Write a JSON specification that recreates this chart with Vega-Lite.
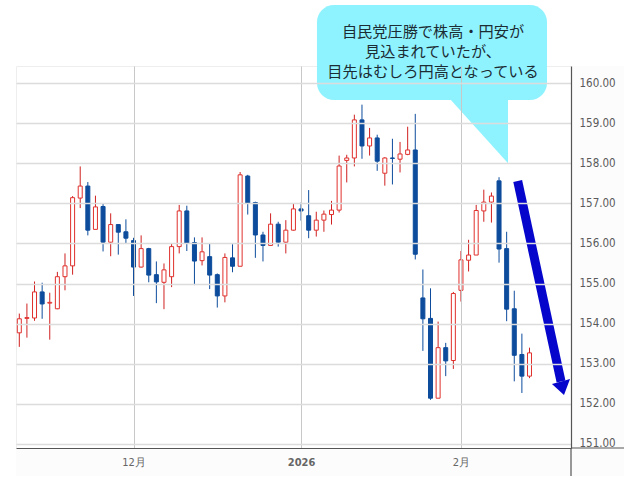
{
  "$schema": "https://vega.github.io/schema/vega-lite/v6.json",
  "width": 555,
  "height": 382,
  "autosize": "none",
  "padding": {"left": 16, "top": 66, "right": 69, "bottom": 36},
  "background": "white",
  "view": {"stroke": "#eeeeee", "fill": "white"},
  "datasets": {
    "candles": [
      {"x":0,"open":153.77,"close":154.12,"low":153.42,"high":154.25,"dir":"up"},
      {"x":1,"open":154.13,"close":154.15,"low":153.65,"high":154.5,"dir":"up"},
      {"x":2,"open":154.14,"close":154.79,"low":154.07,"high":155.05,"dir":"up"},
      {"x":3,"open":154.79,"close":154.49,"low":154.12,"high":155.02,"dir":"down"},
      {"x":4,"open":154.51,"close":154.53,"low":153.6,"high":154.77,"dir":"up"},
      {"x":5,"open":154.37,"close":155.17,"low":154.36,"high":155.29,"dir":"up"},
      {"x":6,"open":155.17,"close":155.44,"low":154.83,"high":155.75,"dir":"up"},
      {"x":7,"open":155.44,"close":157.14,"low":155.22,"high":157.18,"dir":"up"},
      {"x":8,"open":157.13,"close":157.43,"low":156.88,"high":157.92,"dir":"up"},
      {"x":9,"open":157.43,"close":156.33,"low":156.2,"high":157.53,"dir":"down"},
      {"x":10,"open":156.35,"close":156.91,"low":156.35,"high":157.19,"dir":"up"},
      {"x":11,"open":156.92,"close":156.03,"low":155.8,"high":156.99,"dir":"down"},
      {"x":12,"open":156.03,"close":156.47,"low":155.68,"high":156.75,"dir":"up"},
      {"x":13,"open":156.47,"close":156.28,"low":155.72,"high":156.47,"dir":"down"},
      {"x":14,"open":156.29,"close":156.13,"low":156.0,"high":156.6,"dir":"down"},
      {"x":15,"open":156.07,"close":155.41,"low":154.69,"high":156.14,"dir":"down"},
      {"x":16,"open":155.41,"close":155.87,"low":155.4,"high":156.2,"dir":"up"},
      {"x":17,"open":155.87,"close":155.21,"low":155.03,"high":155.89,"dir":"down"},
      {"x":18,"open":155.22,"close":155.04,"low":154.51,"high":155.55,"dir":"down"},
      {"x":19,"open":155.03,"close":155.34,"low":154.36,"high":155.5,"dir":"up"},
      {"x":20,"open":155.17,"close":155.92,"low":154.91,"high":155.99,"dir":"up"},
      {"x":21,"open":155.92,"close":156.81,"low":155.75,"high":156.96,"dir":"up"},
      {"x":22,"open":156.81,"close":156.0,"low":155.81,"high":156.94,"dir":"down"},
      {"x":23,"open":156.02,"close":155.56,"low":154.96,"high":156.15,"dir":"down"},
      {"x":24,"open":155.57,"close":155.79,"low":155.45,"high":156.15,"dir":"up"},
      {"x":25,"open":155.67,"close":155.21,"low":154.86,"high":155.99,"dir":"down"},
      {"x":26,"open":155.22,"close":154.69,"low":154.4,"high":155.25,"dir":"down"},
      {"x":27,"open":154.69,"close":155.65,"low":154.53,"high":155.75,"dir":"up"},
      {"x":28,"open":155.64,"close":155.43,"low":155.28,"high":155.98,"dir":"down"},
      {"x":29,"open":155.43,"close":157.71,"low":155.43,"high":157.78,"dir":"up"},
      {"x":30,"open":157.68,"close":157.0,"low":156.72,"high":157.71,"dir":"down"},
      {"x":31,"open":157.02,"close":156.21,"low":155.64,"high":157.04,"dir":"down"},
      {"x":32,"open":156.21,"close":155.95,"low":155.55,"high":156.29,"dir":"down"},
      {"x":33,"open":155.95,"close":156.48,"low":155.95,"high":156.75,"dir":"up"},
      {"x":34,"open":156.48,"close":156.03,"low":155.92,"high":156.54,"dir":"down"},
      {"x":35,"open":156.03,"close":156.33,"low":155.75,"high":156.58,"dir":"up"},
      {"x":36,"open":156.33,"close":156.86,"low":156.32,"high":157.0,"dir":"up"},
      {"x":37,"open":156.86,"close":156.81,"low":156.57,"high":157.02,"dir":"down"},
      {"x":38,"open":156.69,"close":156.33,"low":156.13,"high":157.33,"dir":"down"},
      {"x":39,"open":156.33,"close":156.58,"low":156.17,"high":156.79,"dir":"up"},
      {"x":40,"open":156.58,"close":156.73,"low":156.29,"high":156.82,"dir":"up"},
      {"x":41,"open":156.72,"close":156.83,"low":156.47,"high":157.06,"dir":"up"},
      {"x":42,"open":156.83,"close":157.93,"low":156.77,"high":158.19,"dir":"up"},
      {"x":43,"open":158.07,"close":158.13,"low":157.52,"high":158.21,"dir":"up"},
      {"x":44,"open":158.13,"close":159.08,"low":157.92,"high":159.21,"dir":"up"},
      {"x":45,"open":159.08,"close":158.43,"low":158.11,"high":159.46,"dir":"down"},
      {"x":46,"open":158.43,"close":158.63,"low":158.19,"high":158.88,"dir":"up"},
      {"x":47,"open":158.63,"close":158.05,"low":157.81,"high":158.71,"dir":"down"},
      {"x":48,"open":157.75,"close":158.13,"low":157.44,"high":158.15,"dir":"up"},
      {"x":49,"open":158.13,"close":158.12,"low":157.47,"high":158.61,"dir":"down"},
      {"x":50,"open":158.1,"close":158.23,"low":157.77,"high":158.53,"dir":"up"},
      {"x":51,"open":158.22,"close":158.33,"low":158.2,"high":158.91,"dir":"up"},
      {"x":52,"open":158.33,"close":155.73,"low":155.6,"high":159.23,"dir":"down"},
      {"x":53,"open":154.64,"close":154.12,"low":153.32,"high":155.35,"dir":"down"},
      {"x":54,"open":154.13,"close":152.14,"low":152.1,"high":154.88,"dir":"down"},
      {"x":55,"open":152.14,"close":153.4,"low":152.14,"high":154.05,"dir":"up"},
      {"x":56,"open":153.4,"close":153.07,"low":152.69,"high":153.52,"dir":"down"},
      {"x":57,"open":153.08,"close":154.75,"low":152.87,"high":154.79,"dir":"up"},
      {"x":58,"open":154.83,"close":155.59,"low":154.55,"high":155.81,"dir":"up"},
      {"x":59,"open":155.58,"close":155.71,"low":155.3,"high":156.09,"dir":"up"},
      {"x":60,"open":155.71,"close":156.82,"low":155.71,"high":156.96,"dir":"up"},
      {"x":61,"open":156.81,"close":157.03,"low":156.54,"high":157.34,"dir":"up"},
      {"x":62,"open":157.03,"close":157.18,"low":156.52,"high":157.27,"dir":"up"},
      {"x":63,"open":157.56,"close":155.86,"low":155.52,"high":157.65,"dir":"down"},
      {"x":64,"open":155.87,"close":154.36,"low":154.06,"high":156.29,"dir":"down"},
      {"x":65,"open":154.37,"close":153.21,"low":152.56,"high":154.82,"dir":"down"},
      {"x":66,"open":153.23,"close":152.69,"low":152.27,"high":153.75,"dir":"down"},
      {"x":67,"open":152.69,"close":153.27,"low":152.64,"high":153.4,"dir":"up"}
    ],
    "strips": [
      {"x":72.45,"x2":79.41,"y":160.424,"y2":150.2},
      {"x":-0.433,"x2":72.45,"y":150.898,"y2":150.2}
    ],
    "frame": [
      {"x":72.45,"x2":79.41,"y":150.898,"y2":150.898},
      {"x":72.45,"x2":72.45,"y":150.898,"y2":150.2}
    ],
    "callout": [{"x":39.09,"x2":69.3,"y":161.945,"y2":159.576}],
    "tail": [
      {"x":56.56,"y":159.6,"y2":159.6},
      {"x":64.18,"y":159.6,"y2":158.0}
    ],
    "note": [
      {"x":54.33,"y":161.27,"label":"自民党圧勝で株高・円安が"},
      {"x":54.33,"y":160.774,"label":"見込まれていたが、"},
      {"x":54.33,"y":160.278,"label":"目先はむしろ円高となっている"}
    ],
    "shaft": [{"x":65.45,"x2":71.14,"y":157.556,"y2":152.556}],
    "head": [
      {"x":69.95,"y":152.494,"y2":152.494},
      {"x":71.53,"y":152.576,"y2":152.219},
      {"x":72.32,"y":152.618,"y2":152.618}
    ]
  },
  "encoding": {
    "x": {
      "field": "x",
      "type": "quantitative",
      "title": null,
      "scale": {"domain": [-0.433, 72.45], "nice": false, "zero": false, "padding": 0},
      "axis": {
        "values": [15, 37, 58],
        "labelExpr": "datum.value == 15 ? '12月' : datum.value == 37 ? '2026' : '2月'",
        "labelFontWeight": {"expr": "datum.value == 37 ? 'bold' : 'normal'"},
        "labelFont": "DejaVu Sans Condensed, DejaVu Sans",
        "labelFontSize": 11,
        "labelColor": "#666666",
        "labelPadding": 8,
        "ticks": false,
        "grid": true,
        "gridColor": "#c8c8c8",
        "gridWidth": 1,
        "domainColor": "#555555",
        "domainWidth": 1.2,
        "zindex": 1
      }
    },
    "y": {
      "field": "y",
      "type": "quantitative",
      "title": null,
      "scale": {"domain": [150.898, 160.424], "nice": false, "zero": false, "padding": 0},
      "axis": {
        "orient": "right",
        "values": [151, 152, 153, 154, 155, 156, 157, 158, 159, 160],
        "format": ".2f",
        "labelFont": "DejaVu Sans Condensed, DejaVu Sans",
        "labelFontSize": 11.5,
        "labelColor": "#5a5a5a",
        "labelPadding": 8,
        "ticks": false,
        "grid": true,
        "gridColor": "#dcdcdc",
        "gridWidth": 1.5,
        "domainColor": "#555555",
        "domainWidth": 1.2,
        "zindex": 1
      }
    }
  },
  "layer": [
    {
      "data": {"name": "strips"},
      "mark": {"type": "rect", "color": "#fcfcfc"},
      "encoding": {"x2": {"field": "x2"}, "y2": {"field": "y2"}}
    },
    {
      "data": {"name": "frame"},
      "mark": {"type": "rule", "color": "#555555", "strokeWidth": 1.2},
      "encoding": {"x2": {"field": "x2"}, "y2": {"field": "y2"}}
    },
    {
      "data": {"name": "candles"},
      "mark": {"type": "rule", "strokeWidth": 1},
      "encoding": {
        "y": {
          "field": "low",
          "type": "quantitative",
          "title": null,
          "scale": {"domain": [150.898, 160.424], "nice": false, "zero": false, "padding": 0},
          "axis": {
            "orient": "right",
            "values": [151, 152, 153, 154, 155, 156, 157, 158, 159, 160],
            "format": ".2f",
            "labelFont": "DejaVu Sans Condensed, DejaVu Sans",
            "labelFontSize": 11.5,
            "labelColor": "#5a5a5a",
            "labelPadding": 8,
            "ticks": false,
            "grid": true,
            "gridColor": "#dcdcdc",
            "gridWidth": 1.5,
            "domainColor": "#555555",
            "domainWidth": 1.2,
            "zindex": 1
          }
        },
        "y2": {"field": "high"},
        "color": {"field": "dir", "type": "nominal", "legend": null, "scale": {"domain": ["up", "down"], "range": ["#d02020", "#0d4c9c"]}}
      }
    },
    {
      "data": {"name": "candles"},
      "mark": {"type": "bar", "width": 4, "strokeWidth": 1},
      "encoding": {
        "y": {
          "field": "open",
          "type": "quantitative",
          "title": null,
          "scale": {"domain": [150.898, 160.424], "nice": false, "zero": false, "padding": 0},
          "axis": {
            "orient": "right",
            "values": [151, 152, 153, 154, 155, 156, 157, 158, 159, 160],
            "format": ".2f",
            "labelFont": "DejaVu Sans Condensed, DejaVu Sans",
            "labelFontSize": 11.5,
            "labelColor": "#5a5a5a",
            "labelPadding": 8,
            "ticks": false,
            "grid": true,
            "gridColor": "#dcdcdc",
            "gridWidth": 1.5,
            "domainColor": "#555555",
            "domainWidth": 1.2,
            "zindex": 1
          }
        },
        "y2": {"field": "close"},
        "fill": {"field": "dir", "type": "nominal", "legend": null, "scale": {"domain": ["up", "down"], "range": ["#ffffff", "#0d4c9c"]}},
        "stroke": {"field": "dir", "type": "nominal", "legend": null, "scale": {"domain": ["up", "down"], "range": ["#e0302c", "#0d4c9c"]}}
      }
    },
    {
      "data": {"name": "tail"},
      "mark": {"type": "area", "color": "#8ff3ff"},
      "encoding": {"y2": {"field": "y2"}}
    },
    {
      "data": {"name": "callout"},
      "mark": {"type": "rect", "color": "#8ff3ff", "cornerRadius": 17},
      "encoding": {"x2": {"field": "x2"}, "y2": {"field": "y2"}}
    },
    {
      "data": {"name": "note"},
      "mark": {"type": "text", "font": "Noto Sans CJK JP", "fontSize": 15.2, "color": "#1c2c34", "align": "center", "baseline": "middle"},
      "encoding": {"text": {"field": "label"}}
    },
    {
      "data": {"name": "shaft"},
      "mark": {"type": "rule", "color": "#0505cc", "strokeWidth": 9},
      "encoding": {"x2": {"field": "x2"}, "y2": {"field": "y2"}}
    },
    {
      "data": {"name": "head"},
      "mark": {"type": "area", "color": "#0505cc"},
      "encoding": {"y2": {"field": "y2"}}
    }
  ]
}
